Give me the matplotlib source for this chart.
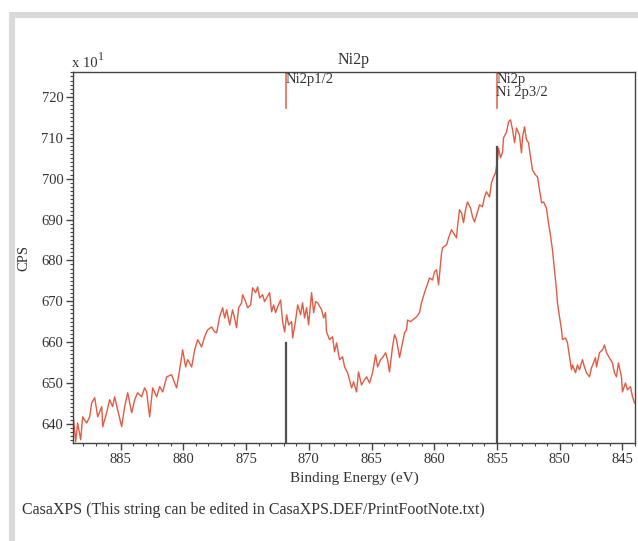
import matplotlib
matplotlib.use("Agg")
import matplotlib.pyplot as plt
from matplotlib.patches import Rectangle
from matplotlib.ticker import MultipleLocator

plt.rcParams['font.family'] = ['Liberation Serif', 'DejaVu Serif']

# Ni 2p spectrum (counts in units of x10)
energy = [888.75, 888.59, 888.43, 888.19, 888.03, 887.71, 887.47, 887.31, 887.07, 886.83,
          886.51, 886.43, 886.12, 885.88, 885.64, 885.48, 885.24, 884.92, 884.68, 884.44,
          884.12, 883.88, 883.65, 883.33, 883.09, 882.93, 882.69, 882.45, 882.13, 881.89,
          881.65, 881.33, 880.94, 880.70, 880.54, 880.30, 880.06, 879.82, 879.66, 879.34,
          879.10, 878.86, 878.55, 878.31, 878.07, 877.75, 877.51, 877.35, 877.11, 876.87,
          876.71, 876.55, 876.31, 876.08, 875.92, 875.76, 875.60, 875.36, 875.28, 875.04,
          874.88, 874.64, 874.48, 874.24, 874.08, 873.92, 873.69, 873.53, 873.37, 873.13,
          872.97, 872.81, 872.65, 872.49, 872.25, 872.09, 871.93, 871.77, 871.61, 871.37,
          871.29, 871.05, 870.89, 870.66, 870.50, 870.34, 870.18, 870.02, 869.78, 869.62,
          869.46, 869.30, 868.98, 868.82, 868.67, 868.59, 868.35, 868.11, 867.95, 867.79,
          867.55, 867.31, 867.15, 866.91, 866.59, 866.43, 866.20, 866.04, 865.80, 865.56,
          865.40, 865.16, 864.92, 864.68, 864.52, 864.28, 864.12, 863.88, 863.73, 863.57,
          863.33, 863.17, 863.01, 862.77, 862.53, 862.37, 862.21, 862.13, 861.89, 861.73,
          861.41, 861.18, 861.02, 860.78, 860.62, 860.38, 860.14, 859.98, 859.82, 859.66,
          859.50, 859.42, 859.34, 859.02, 858.86, 858.63, 858.47, 858.23, 858.15, 857.99,
          857.83, 857.67, 857.51, 857.35, 857.11, 856.95, 856.79, 856.63, 856.39, 856.16,
          856.00, 855.84, 855.60, 855.44, 855.28, 855.12, 854.96, 854.88, 854.72, 854.56,
          854.48, 854.24, 854.08, 853.92, 853.76, 853.60, 853.45, 853.21, 853.05, 852.97,
          852.81, 852.65, 852.49, 852.33, 852.17, 851.93, 851.77, 851.61, 851.45, 851.29,
          851.06, 850.90, 850.74, 850.58, 850.42, 850.26, 850.18, 850.02, 849.86, 849.78,
          849.54, 849.38, 849.22, 849.06, 848.98, 848.74, 848.59, 848.43, 848.19, 848.03,
          847.87, 847.63, 847.47, 847.31, 847.15, 847.07, 846.83, 846.59, 846.43, 846.27,
          846.04, 845.80, 845.64, 845.48, 845.32, 845.08, 845.00, 844.76, 844.60, 844.36,
          844.20, 844.04]
cps = [641.0, 635.6, 640.2, 636.1, 641.7, 640.2, 641.7, 645.1, 646.4, 641.7,
       644.2, 639.3, 642.7, 645.9, 644.2, 646.6, 643.4, 639.3, 644.2, 647.6,
       642.7, 645.9, 647.6, 646.6, 648.8, 647.8, 641.7, 648.8, 646.6, 649.1,
       647.8, 651.5, 652.0, 650.0, 648.8, 653.2, 658.1, 653.9, 655.7, 653.9,
       658.1, 660.6, 658.8, 661.3, 663.0, 663.7, 662.5, 662.3, 666.2, 668.4,
       665.9, 667.9, 664.2, 667.9, 665.9, 663.5, 668.4, 669.6, 671.6, 669.9,
       668.4, 669.1, 673.3, 672.1, 673.5, 670.8, 671.6, 669.9, 670.8, 672.1,
       667.4, 669.1, 667.2, 668.6, 670.3, 665.0, 662.5, 666.7, 664.2, 665.0,
       661.0, 665.4, 669.1, 666.7, 669.6, 665.9, 668.4, 664.2, 672.1, 667.2,
       669.9, 669.6, 667.9, 665.9, 667.2, 662.5, 660.6, 661.3, 657.6, 659.8,
       655.7, 656.4, 653.9, 652.5, 648.8, 650.3, 647.8, 652.7, 649.5, 650.8,
       651.5, 650.0, 652.5, 656.9, 653.9, 655.7, 656.2, 657.4, 655.7, 652.7,
       658.8, 661.8, 660.6, 656.2, 659.8, 662.3, 663.0, 665.4, 665.0, 665.4,
       666.2, 667.2, 669.6, 672.1, 673.5, 675.7, 675.2, 677.2, 677.7, 674.0,
       679.4, 681.8, 683.1, 683.8, 685.5, 687.5, 686.7, 685.5, 688.2, 692.4,
       691.6, 689.2, 692.4, 694.3, 692.8, 690.6, 689.4, 691.1, 693.6, 693.1,
       695.5, 696.8, 695.5, 699.0, 700.4, 701.4, 704.6, 707.5, 705.1, 706.5,
       710.0, 711.4, 713.9, 714.4, 711.9, 708.8, 712.4, 710.7, 706.3, 710.0,
       712.7, 709.5, 708.8, 705.3, 702.1, 700.9, 700.4, 697.3, 694.1, 694.3,
       692.8, 689.2, 686.2, 682.6, 677.7, 672.8, 669.6, 666.2, 663.0, 660.6,
       661.0, 659.8, 656.4, 653.2, 654.4, 652.5, 654.4, 653.2, 655.7, 653.9,
       652.5, 651.5, 653.7, 654.9, 656.2, 653.9, 657.4, 658.1, 659.3, 657.4,
       656.2, 654.9, 652.5, 651.5, 654.9, 651.5, 647.8, 650.0, 648.3, 649.1,
       646.6, 645.1]

# component markers
peak_names = ["Ni2p1/2", "Ni2p\nNi 2p3/2"]
peak_pos = [871.8, 855.0]
peak_height = [659.8, 707.8]

fig = plt.figure(figsize=(6.38, 5.41), dpi=100)
fig.patches.append(Rectangle((12 / 638, -0.2), 1.5, 1.2 - 14.5 / 541, transform=fig.transFigure,
                             fill=False, edgecolor='#d9d9d9', linewidth=4.4))
ax = fig.add_axes([73 / 638, 1 - 443 / 541, 562 / 638, 371 / 541])

ax.plot(energy, cps, color='#e25b42', linewidth=1.0)
ymin, ymax = 635.3, 726.1
for name, pos, h in zip(peak_names, peak_pos, peak_height):
    ax.plot([pos, pos], [ymin, h], color='#505050', linewidth=1.6)
    ax.plot([pos, pos], [717.3, ymax], color='#e8785e', linewidth=1.3)
    ax.text(pos + 0.05, ymax - 0.3, name, ha='left', va='top', fontsize=10.5,
            color='#333333', linespacing=1.0)

ax.set_xlim(888.8, 844.0)
ax.set_ylim(ymin, ymax)
ax.xaxis.set_major_locator(MultipleLocator(5))
ax.xaxis.set_minor_locator(MultipleLocator(1))
ax.yaxis.set_major_locator(MultipleLocator(10))
ax.yaxis.set_minor_locator(MultipleLocator(1))
ax.tick_params(which='major', direction='out', length=5, width=1, colors='#444444',
               labelcolor='#333333', labelsize=10.5, pad=2)
ax.tick_params(which='minor', direction='out', length=2.5, width=0.8, colors='#444444')
for s in ax.spines.values():
    s.set_color('#444444')
    s.set_linewidth(1.0)

ax.set_title("Ni2p", fontsize=11.5, color='#333333', pad=6)
ax.set_xlabel("Binding Energy (eV)", fontsize=11, color='#333333', labelpad=4)
ax.set_ylabel("CPS", fontsize=10.5, color='#333333', labelpad=8)
fig.text(72 / 638, 1 - 67 / 541, "x 10", fontsize=10.5, color='#333333', ha='left', va='baseline')
fig.text(98 / 638, 1 - 60 / 541, "1", fontsize=8.5, color='#333333', ha='left', va='baseline')
fig.text(22 / 638, 1 - 514 / 541, "CasaXPS (This string can be edited in CasaXPS.DEF/PrintFootNote.txt)",
         fontsize=11.5, color='#333333', ha='left', va='baseline')

plt.savefig("out.png", dpi=100)
